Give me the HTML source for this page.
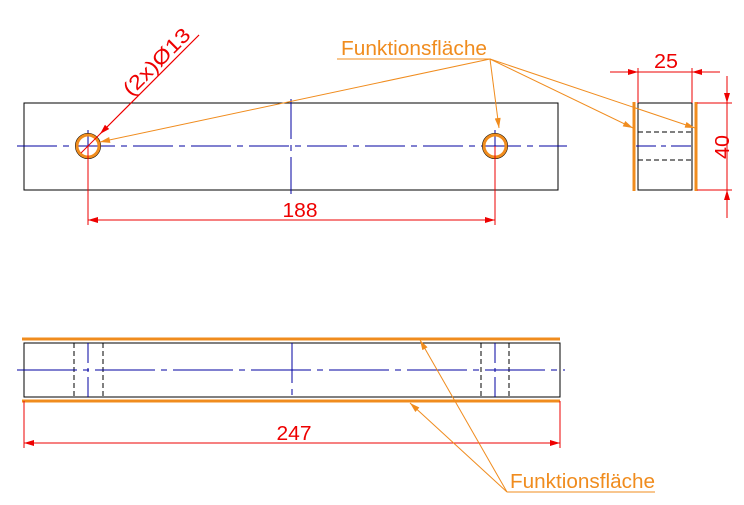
<!DOCTYPE html>
<html><head><meta charset="utf-8"><style>body{margin:0;background:#fff}svg{display:block}text{font-family:"Liberation Sans",sans-serif}</style></head>
<body>
<svg width="744" height="505" viewBox="0 0 744 505" xmlns="http://www.w3.org/2000/svg">
<defs>
<marker id="ar" viewBox="0 0 10 6" refX="10" refY="3" markerWidth="16" markerHeight="6" markerUnits="userSpaceOnUse" orient="auto"><path d="M0,0L10,3L0,6z" fill="#e00"/></marker>
<marker id="ao" viewBox="0 0 10 6" refX="10" refY="3" markerWidth="16" markerHeight="6" markerUnits="userSpaceOnUse" orient="auto"><path d="M0,0L10,3L0,6z" fill="#f08c1e"/></marker>
</defs>
<!-- top view -->
<rect x="24" y="103" width="534" height="87" fill="none" stroke="#000" stroke-width="1"/>
<g stroke="#0000a0" stroke-width="1" fill="none">
<line x1="17" y1="146" x2="567" y2="146" stroke-dasharray="40,6,6,6"/>
<line x1="291" y1="99" x2="291" y2="194" stroke-dasharray="40,6,6,6"/>
<line x1="88" y1="130" x2="88" y2="160"/>
<line x1="495" y1="130" x2="495" y2="160"/>
</g>
<circle cx="88" cy="146" r="12.5" fill="none" stroke="#000" stroke-width="1"/>
<circle cx="88" cy="146" r="11" fill="none" stroke="#f08c1e" stroke-width="3"/>
<circle cx="495" cy="146" r="12.5" fill="none" stroke="#000" stroke-width="1"/>
<circle cx="495" cy="146" r="11" fill="none" stroke="#f08c1e" stroke-width="3"/>
<g stroke="#e00" stroke-width="1" fill="none">
<line x1="88" y1="146" x2="88" y2="225"/>
<line x1="495" y1="146" x2="495" y2="225"/>
<line x1="88" y1="220" x2="495" y2="220" marker-end="url(#ar)"/>
<line x1="495" y1="220" x2="88" y2="220" marker-end="url(#ar)"/>
<line x1="199" y1="35" x2="81" y2="153"/>
<line x1="199" y1="35" x2="100" y2="134" marker-end="url(#ar)"/>
</g>
<text x="300" y="217" font-size="20" fill="#e00" text-anchor="middle" textLength="35" lengthAdjust="spacingAndGlyphs">188</text>
<text transform="translate(131,97) rotate(-45)" font-size="20" fill="#e00" textLength="86" lengthAdjust="spacingAndGlyphs">(2x)Ø13</text>
<!-- side view -->
<rect x="638" y="103" width="54" height="87" fill="none" stroke="#000"/>
<g stroke="#000" stroke-dasharray="5,3"><line x1="638" y1="132" x2="692" y2="132"/><line x1="638" y1="160" x2="692" y2="160"/></g>
<line x1="636" y1="146" x2="694" y2="146" stroke="#0000a0" stroke-dasharray="20,5,5,5"/>
<line x1="634" y1="102" x2="634" y2="191" stroke="#f08c1e" stroke-width="3"/>
<line x1="696" y1="102" x2="696" y2="191" stroke="#f08c1e" stroke-width="3"/>
<g stroke="#e00" fill="none">
<line x1="638" y1="68" x2="638" y2="103"/><line x1="692" y1="68" x2="692" y2="103"/>
<line x1="610" y1="72" x2="638" y2="72" marker-end="url(#ar)"/>
<line x1="720" y1="72" x2="692" y2="72" marker-end="url(#ar)"/>
<line x1="638" y1="72" x2="692" y2="72"/>
<line x1="697" y1="103" x2="732" y2="103"/><line x1="697" y1="190" x2="732" y2="190"/>
<line x1="727" y1="76" x2="727" y2="103" marker-end="url(#ar)"/>
<line x1="727" y1="218" x2="727" y2="190" marker-end="url(#ar)"/>
<line x1="727" y1="103" x2="727" y2="190"/>
</g>
<text x="666" y="68" font-size="20" fill="#e00" text-anchor="middle" textLength="24" lengthAdjust="spacingAndGlyphs">25</text>
<text transform="translate(729,147) rotate(-90)" font-size="20" fill="#e00" text-anchor="middle" textLength="24" lengthAdjust="spacingAndGlyphs">40</text>
<!-- top label -->
<text x="341" y="55" font-size="20" fill="#f08c1e" textLength="146" lengthAdjust="spacingAndGlyphs">Funktionsfläche</text>
<g stroke="#f08c1e" fill="none">
<line x1="337" y1="59" x2="490" y2="59"/>
<line x1="490" y1="59" x2="100" y2="142" marker-end="url(#ao)"/>
<line x1="490" y1="59" x2="499" y2="128" marker-end="url(#ao)"/>
<line x1="490" y1="59" x2="633" y2="128" marker-end="url(#ao)"/>
<line x1="490" y1="59" x2="695" y2="128" marker-end="url(#ao)"/>
</g>
<!-- bottom view -->
<rect x="24" y="343" width="536" height="54" fill="none" stroke="#000"/>
<g stroke="#000" stroke-dasharray="5,3"><line x1="74" y1="343" x2="74" y2="397"/><line x1="103" y1="343" x2="103" y2="397"/><line x1="481" y1="343" x2="481" y2="397"/><line x1="509" y1="343" x2="509" y2="397"/></g>
<g stroke="#0000a0">
<line x1="17" y1="370" x2="565" y2="370" stroke-dasharray="60,6,6,6"/>
<line x1="88" y1="343" x2="88" y2="397" stroke-dasharray="20,5,4,5"/>
<line x1="495" y1="343" x2="495" y2="397" stroke-dasharray="20,5,4,5"/>
<line x1="292" y1="343" x2="292" y2="397" stroke-dasharray="40,6,6,6"/>
</g>
<line x1="22" y1="339" x2="560" y2="339" stroke="#f08c1e" stroke-width="3"/>
<line x1="22" y1="401" x2="560" y2="401" stroke="#f08c1e" stroke-width="3"/>
<g stroke="#e00" fill="none">
<line x1="24" y1="401" x2="24" y2="448"/><line x1="560" y1="401" x2="560" y2="448"/>
<line x1="560" y1="443" x2="24" y2="443" marker-end="url(#ar)"/>
<line x1="24" y1="443" x2="560" y2="443" marker-end="url(#ar)"/>
</g>
<text x="294" y="440" font-size="20" fill="#e00" text-anchor="middle" textLength="35" lengthAdjust="spacingAndGlyphs">247</text>
<text x="510" y="488" font-size="20" fill="#f08c1e" textLength="145" lengthAdjust="spacingAndGlyphs">Funktionsfläche</text>
<g stroke="#f08c1e" fill="none">
<line x1="507" y1="492" x2="655" y2="492"/>
<line x1="507" y1="492" x2="420" y2="340" marker-end="url(#ao)"/>
<line x1="507" y1="492" x2="410" y2="403" marker-end="url(#ao)"/>
</g>
</svg>
</body></html>
